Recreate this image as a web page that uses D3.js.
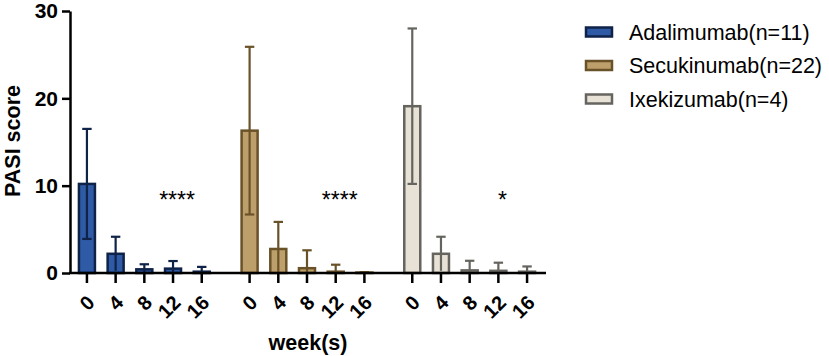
<!DOCTYPE html>
<html>
<head>
<meta charset="utf-8">
<script src="https://cdn.jsdelivr.net/npm/d3@7"></script>
<style>
  body { margin: 0; background: #fff; }
  svg { display: block; font-family: "Liberation Sans", Arial, sans-serif; }
</style>
</head>
<body>
<div id="chart"></div>
<script>
// PASI score by drug and week (mean, SD)
const groups = ["Adalimumab(n=11)", "Secukinumab(n=22)", "Ixekizumab(n=4)"];
const weeks = ["0", "4", "8", "12", "16"];
const adalimumabMean = [10.2, 2.2, 0.42, 0.5, 0.15];
const adalimumabSD = [6.3, 1.95, 0.58, 0.87, 0.55];
const secukinumabMean = [16.3, 2.75, 0.55, 0.15, 0.05];
const secukinumabSD = [9.6, 3.1, 2.05, 0.8, 0.05];
const ixekizumabMean = [19.1, 2.2, 0.3, 0.25, 0.15];
const ixekizumabSD = [8.9, 1.95, 1.1, 0.93, 0.6];
const stars = ["****", "****", "*"];
const yTicks = [0, 10, 20, 30];

const fills = ["#2e5aa6", "#bd9f6c", "#e7e2d5"];
const strokes = ["#0f2248", "#6a5228", "#65645f"];

const means = [adalimumabMean, secukinumabMean, ixekizumabMean];
const sds = [adalimumabSD, secukinumabSD, ixekizumabSD];

const data = [];
groups.forEach((g, gi) => {
    weeks.forEach((w, wi) => {
        data.push({group: g, gi: gi, week: w, mean: means[gi][wi], sd: sds[gi][wi]});
    });
});

const width = 829, height = 356;
const svg = d3.select("#chart").append("svg")
    .attr("width", width)
    .attr("height", height);

const axisLeft = 70, axisRight = 546, y0 = 273, yTop = 11;

const y = d3.scaleLinear().domain([0, 30]).range([y0, yTop]);
const xGroup = d3.scaleBand().domain(groups).range([63, 551]);
const xWeek = d3.scalePoint().domain(weeks).range([-57.4, 57.4]);
const xPos = d => xGroup(d.group) + xGroup.bandwidth() / 2 + xWeek(d.week);
const barW = 16;

// bars
svg.selectAll(".bar")
    .data(data)
    .enter()
    .append("rect")
    .attr("class", "bar")
    .attr("x", d => xPos(d) - barW / 2)
    .attr("y", d => y(d.mean))
    .attr("width", barW)
    .attr("height", d => y0 - y(d.mean))
    .attr("fill", d => fills[d.gi])
    .attr("stroke", d => strokes[d.gi])
    .attr("stroke-width", 2.5);

// error bars (mean +/- SD, clipped at 0)
const err = svg.selectAll(".err")
    .data(data)
    .enter()
    .append("g")
    .attr("class", "err")
    .attr("stroke", d => strokes[d.gi])
    .attr("stroke-width", 2.2);

err.append("line")
    .attr("x1", d => xPos(d))
    .attr("x2", d => xPos(d))
    .attr("y1", d => y(Math.max(0, d.mean - d.sd)))
    .attr("y2", d => y(d.mean + d.sd));

err.append("line")
    .attr("x1", d => xPos(d) - 4.7)
    .attr("x2", d => xPos(d) + 4.7)
    .attr("y1", d => y(d.mean + d.sd))
    .attr("y2", d => y(d.mean + d.sd));

err.filter(d => d.mean - d.sd > 0.3)
    .append("line")
    .attr("x1", d => xPos(d) - 4.7)
    .attr("x2", d => xPos(d) + 4.7)
    .attr("y1", d => y(d.mean - d.sd))
    .attr("y2", d => y(d.mean - d.sd));

// y axis
const yAxis = svg.append("g")
    .attr("transform", `translate(${axisLeft},0)`)
    .call(d3.axisLeft(y).tickValues(yTicks).tickSize(8).tickPadding(4).tickSizeOuter(0));
yAxis.select(".domain").attr("stroke", "#000").attr("stroke-width", 2.5);
yAxis.selectAll(".tick line").attr("stroke", "#000").attr("stroke-width", 2.5);
yAxis.selectAll("text")
    .attr("fill", "#000")
    .style("font-size", "21px")
    .style("font-weight", "bold")
    .style("font-family", "Liberation Sans, Arial, sans-serif");

// x axis line
svg.append("line")
    .attr("x1", axisLeft - 1)
    .attr("x2", axisRight)
    .attr("y1", y0)
    .attr("y2", y0)
    .attr("stroke", "#000")
    .attr("stroke-width", 2.5);

// x ticks and labels
const ticks = svg.selectAll(".xtick")
    .data(data)
    .enter()
    .append("g")
    .attr("class", "xtick")
    .attr("transform", d => `translate(${xPos(d)},${y0})`);

ticks.append("line")
    .attr("y1", 0)
    .attr("y2", 10)
    .attr("stroke", "#000")
    .attr("stroke-width", 2.5);

ticks.append("text")
    .attr("transform", "translate(4,26) rotate(-45)")
    .attr("text-anchor", "end")
    .attr("dy", "0.35em")
    .style("font-size", "20px")
    .style("font-weight", "bold")
    .text(d => d.week);

// significance stars
svg.selectAll(".star")
    .data(groups)
    .enter()
    .append("text")
    .attr("class", "star")
    .attr("x", (g, i) => xGroup(g) + xGroup.bandwidth() / 2 + xWeek("12") + 4)
    .attr("y", 208)
    .attr("text-anchor", "middle")
    .style("font-size", "23px")
    .text((g, i) => stars[i]);

// axis titles
svg.append("text")
    .attr("transform", "translate(20,141) rotate(-90)")
    .attr("text-anchor", "middle")
    .style("font-size", "21.5px")
    .style("font-weight", "bold")
    .text("PASI score");

svg.append("text")
    .attr("x", 308)
    .attr("y", 350)
    .attr("text-anchor", "middle")
    .style("font-size", "21.5px")
    .style("font-weight", "bold")
    .text("week(s)");

// legend
const legend = svg.selectAll(".legend")
    .data(groups)
    .enter()
    .append("g")
    .attr("class", "legend")
    .attr("transform", (g, i) => `translate(586,${32 + i * 33.5})`);

legend.append("rect")
    .attr("x", 0)
    .attr("y", -4.5)
    .attr("width", 26)
    .attr("height", 9)
    .attr("fill", (g, i) => fills[i])
    .attr("stroke", (g, i) => strokes[i])
    .attr("stroke-width", 2.5);

legend.append("text")
    .attr("x", 43)
    .attr("dy", "0.35em")
    .style("font-size", "21.5px")
    .text(g => g);
</script>
</body>
</html>
